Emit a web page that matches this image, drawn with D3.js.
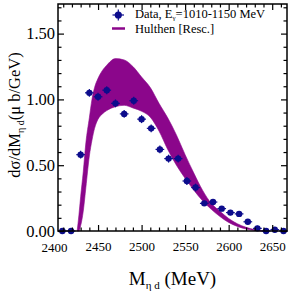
<!DOCTYPE html>
<html><head><meta charset="utf-8">
<script src="https://cdn.jsdelivr.net/npm/d3@7"></script>
<style>body{margin:0;background:#fff}svg{display:block}</style>
</head><body>
<script>
// ---- data ----
const dataMass = [2409,2419,2430,2440,2450,2460,2470,2480,2491,2500,2511,2521,2531,2542,2552,2562,2572,2582,2592,2602,2612,2622,2633,2643,2653,2663];
const dataXsec = [0.00,0.00,0.58,1.05,1.02,1.07,0.97,0.89,0.99,0.85,0.78,0.62,0.55,0.55,0.38,0.33,0.21,0.22,0.17,0.14,0.13,0.07,0.02,0.00,0.01,0.00];
const dataErr  = [0.02,0.02,0.03,0.03,0.03,0.03,0.03,0.03,0.03,0.03,0.03,0.03,0.03,0.03,0.03,0.03,0.02,0.02,0.02,0.02,0.02,0.02,0.02,0.02,0.02,0.02];
const binHalf = 5;
const bandMass  = [2426,2428,2430,2433,2436,2440,2443,2446,2450,2455,2460,2470,2480,2490,2500,2510,2520,2530,2540,2550,2560,2570,2580,2590,2600,2610,2620,2630,2640];
const bandHigh  = [0,0.12,0.26,0.45,0.67,0.86,1.00,1.09,1.16,1.22,1.26,1.31,1.30,1.25,1.17,1.09,0.97,0.86,0.73,0.58,0.44,0.31,0.21,0.15,0.095,0.055,0.028,0.010,0];
const bandLow   = [0,0.00,0.04,0.15,0.33,0.57,0.69,0.78,0.85,0.89,0.915,0.945,0.955,0.935,0.91,0.865,0.76,0.62,0.50,0.40,0.31,0.23,0.165,0.11,0.065,0.035,0.015,0.004,0];
const xMajor = [2400,2450,2500,2550,2600,2650];
const yMajor = [0,0.5,1.0,1.5];
const legendLabels = ["Data, E", "Hulthen [Resc.]"];

// ---- layout ----
const W = 291, H = 291;
const L = 58, R = 287, T = 4, B = 231;
const font = "'Liberation Serif','Times New Roman',Times,serif";
const purple = "#8b068b", navy = "#0c0c8c";

const svg = d3.select("body").append("svg").attr("width", W).attr("height", H);
const x = d3.scaleLinear().domain([2404, 2667]).range([L, R]);
const y = d3.scaleLinear().domain([0, 1.725]).range([B, T]);

// band
const bandData = bandMass.map((m,i)=>({m, hi: bandHigh[i], lo: bandLow[i]}));
const area = d3.area().x(d=>x(d.m)).y0(d=>y(d.lo)).y1(d=>y(d.hi)).curve(d3.curveMonotoneX);
svg.append("path").datum(bandData).attr("d", area).attr("fill", purple).attr("stroke", purple).attr("stroke-width", 0.6);

// data points
const pts = dataMass.map((m,i)=>({m, v: dataXsec[i], e: dataErr[i]}));
const g = svg.append("g");
g.selectAll("line.h").data(pts).join("line").attr("class","h")
  .attr("x1", d=>x(d.m-binHalf)).attr("x2", d=>x(d.m+binHalf))
  .attr("y1", d=>y(d.v)).attr("y2", d=>y(d.v)).attr("stroke", navy).attr("stroke-width", 1.2);
g.selectAll("line.v").data(pts).join("line").attr("class","v")
  .attr("x1", d=>x(d.m)).attr("x2", d=>x(d.m))
  .attr("y1", d=>y(d.v-d.e)).attr("y2", d=>y(d.v+d.e)).attr("stroke", navy).attr("stroke-width", 1.2);
g.selectAll("circle").data(pts).join("circle")
  .attr("cx", d=>x(d.m)).attr("cy", d=>y(d.v)).attr("r", 3.2).attr("fill", navy);

// axes (ticks inward)
const xMinor = d3.range(2410, 2667, 10).filter(v=>v%50!==0);
const yMinor = d3.range(0.1, 1.72, 0.1).filter(v=>Math.abs(v*2-Math.round(v*2))>1e-6);
function styleAxis(sel){ sel.select(".domain").remove(); sel.selectAll("line").attr("stroke","#000").attr("stroke-width",1.2); }

svg.append("g").attr("transform",`translate(0,${B})`)
  .call(d3.axisBottom(x).tickValues(xMajor.filter(v=>v>=2404)).tickSize(-6).tickPadding(11).tickFormat(d3.format("d")))
  .call(styleAxis).call(s=>s.selectAll("text").attr("font-family",font).attr("font-size",13).attr("fill","#000"));
svg.append("text").attr("x", x(2400)).attr("y", B+21).attr("text-anchor","middle")
  .attr("font-family",font).attr("font-size",13).text(d3.format("d")(xMajor[0]));
svg.append("g").attr("transform",`translate(0,${B})`)
  .call(d3.axisBottom(x).tickValues(xMinor).tickSize(-3.5).tickFormat(""))
  .call(styleAxis);
svg.append("g").attr("transform",`translate(0,${T})`)
  .call(d3.axisTop(x).tickValues(xMajor.filter(v=>v>=2404)).tickSize(-6).tickFormat("")).call(styleAxis);
svg.append("g").attr("transform",`translate(0,${T})`)
  .call(d3.axisTop(x).tickValues(xMinor).tickSize(-3.5).tickFormat("")).call(styleAxis);

svg.append("g").attr("transform",`translate(${L},0)`)
  .call(d3.axisLeft(y).tickValues(yMajor).tickSize(-6).tickPadding(3).tickFormat(d3.format(".2f")))
  .call(styleAxis).call(s=>s.selectAll("text").attr("font-family",font).attr("font-size",16.5).attr("fill","#000"));
svg.append("g").attr("transform",`translate(${L},0)`)
  .call(d3.axisLeft(y).tickValues(yMinor).tickSize(-3.5).tickFormat("")).call(styleAxis);
svg.append("g").attr("transform",`translate(${R},0)`)
  .call(d3.axisRight(y).tickValues(yMajor).tickSize(-6).tickFormat("")).call(styleAxis);
svg.append("g").attr("transform",`translate(${R},0)`)
  .call(d3.axisRight(y).tickValues(yMinor).tickSize(-3.5).tickFormat("")).call(styleAxis);

// frame
svg.append("rect").attr("x",L).attr("y",T).attr("width",R-L).attr("height",B-T)
  .attr("fill","none").attr("stroke","#000").attr("stroke-width",1.5);

// axis titles
const xt = svg.append("text").attr("x",(L+R)/2).attr("y",285).attr("text-anchor","middle")
  .attr("font-family",font).attr("font-size",19);
xt.append("tspan").text("M");
xt.append("tspan").attr("font-size",11).attr("dy",4).text("η d");
xt.append("tspan").attr("dy",-4).text(" (MeV)");

const yt = svg.append("text").attr("transform","translate(20,115) rotate(-90)").attr("text-anchor","middle")
  .attr("font-family",font).attr("font-size",16.5);
yt.append("tspan").text("dσ/dM");
yt.append("tspan").attr("font-size",10).attr("dy",3.5).text("η d");
yt.append("tspan").attr("dy",-3.5).text("(μ b/GeV)");

// legend
const lg = svg.append("g");
lg.append("line").attr("x1",112.5).attr("x2",124).attr("y1",15).attr("y2",15).attr("stroke",navy).attr("stroke-width",1.2);
lg.append("line").attr("x1",118.3).attr("x2",118.3).attr("y1",9.5).attr("y2",20.5).attr("stroke",navy).attr("stroke-width",1.2);
lg.append("circle").attr("cx",118.3).attr("cy",15).attr("r",3.6).attr("fill",navy);
const t1 = lg.append("text").attr("x",135).attr("y",18).attr("font-family",font).attr("font-size",12.5);
t1.append("tspan").text(legendLabels[0]);
t1.append("tspan").attr("font-size",7).attr("dy",1.5).text("γ");
t1.append("tspan").attr("dy",-1.5).text("=1010-1150 MeV");
lg.append("line").attr("x1",112).attr("x2",125).attr("y1",28.5).attr("y2",28.5).attr("stroke",purple).attr("stroke-width",2.5);
lg.append("text").attr("x",135).attr("y",33).attr("font-family",font).attr("font-size",12.5).text(legendLabels[1]);
</script>
</body></html>
